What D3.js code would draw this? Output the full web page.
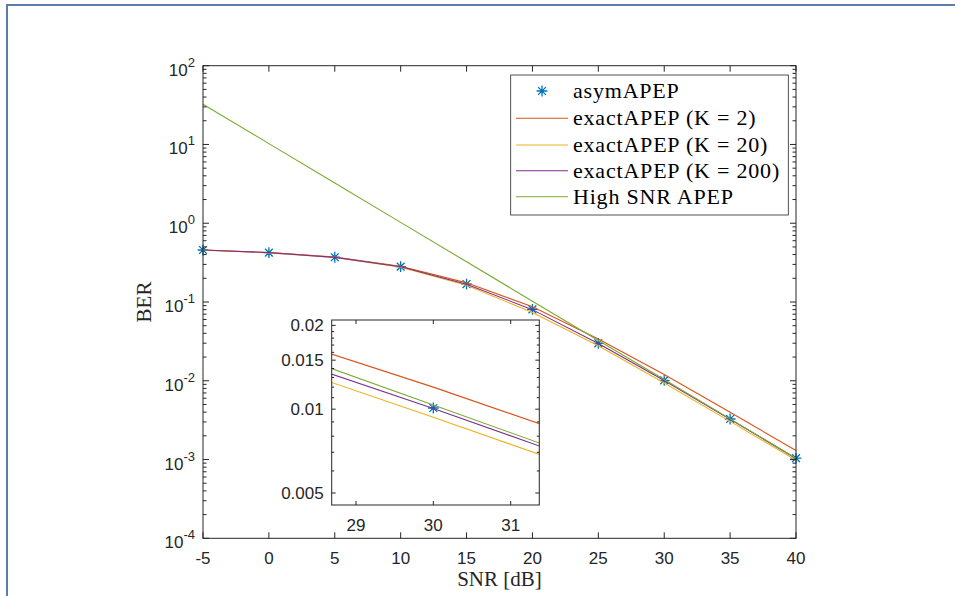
<!DOCTYPE html>
<html><head><meta charset="utf-8">
<script src="https://cdn.jsdelivr.net/npm/d3@7"></script>
<style>body{margin:0;background:#fff;}svg{display:block;}</style>
</head><body>
<svg id="chart" width="955" height="596"></svg>
<script>
// ---- data ----
const snr        = [-5, 0, 5, 10, 15, 20, 25, 30, 35, 40];
const asymAPEP   = [0.457, 0.423, 0.370, 0.281, 0.169, 0.0807, 0.0299, 0.0101, 0.00327, 0.00104];
const exactK2    = [0.458, 0.425, 0.373, 0.285, 0.175, 0.0871, 0.0340, 0.0120, 0.00398, 0.00130];
const exactK20   = [0.456, 0.421, 0.367, 0.277, 0.163, 0.0735, 0.0279, 0.00936, 0.00305, 0.00098];
const exactK200  = [0.457, 0.423, 0.369, 0.280, 0.168, 0.0800, 0.0298, 0.01005, 0.00325, 0.00103];
const highSNR    = [32.4, 10.25, 3.24, 1.025, 0.324, 0.1025, 0.0324, 0.01036, 0.00328, 0.00104];
const xTicks     = [-5, 0, 5, 10, 15, 20, 25, 30, 35, 40];
const yTickExps  = [2, 1, 0, -1, -2, -3, -4];
const insetXTicks = [29, 30, 31];
const insetYTicks = [0.005, 0.01, 0.015, 0.02];
const insetYLabels = ["0.005", "0.01", "0.015", "0.02"];
const legendLabels = ["asymAPEP", "exactAPEP (K = 2)", "exactAPEP (K = 20)", "exactAPEP (K = 200)", "High SNR APEP"];
const colors = ["#0072BD", "#D95319", "#EDB120", "#7E2F8E", "#77AC30"];

const svg = d3.select("#chart");
const axisColor = "#262626";
const sans = "'Liberation Sans', Arial, sans-serif";
const serif = "'Liberation Serif', 'Times New Roman', serif";

// outer frame
svg.append("rect").attr("x", 7).attr("y", 5).attr("width", 1000).attr("height", 700)
  .attr("fill", "none").attr("stroke", "#5a7dae").attr("stroke-width", 2);

// ---- main axes ----
const X0 = 203, X1 = 796, Y0 = 65.7, Y1 = 538.3;
const x = d3.scaleLinear().domain([-5, 40]).range([X0, X1]);
const y = d3.scaleLog().domain([1e-4, 1e2]).range([Y1, Y0]);

const series = [exactK2, exactK20, exactK200, highSNR];

function asterisk(g, cx, cy, r, color) {
  const d = `M${cx - r},${cy}L${cx + r},${cy}M${cx},${cy - r}L${cx},${cy + r}` +
    `M${cx - r * 0.72},${cy - r * 0.72}L${cx + r * 0.72},${cy + r * 0.72}` +
    `M${cx - r * 0.72},${cy + r * 0.72}L${cx + r * 0.72},${cy - r * 0.72}`;
  g.append("path").attr("d", d).attr("stroke", color).attr("stroke-width", 1.3).attr("fill", "none");
}

const main = svg.append("g");
main.append("clipPath").attr("id", "mainclip").append("rect")
  .attr("x", X0 - 6).attr("y", Y0).attr("width", X1 - X0 + 12).attr("height", Y1 - Y0);
const plotG = main.append("g").attr("clip-path", "url(#mainclip)");

// markers (asym)
snr.forEach((s, i) => asterisk(plotG, x(s), y(asymAPEP[i]), 5.4, colors[0]));
const line = d3.line().x((d, i) => x(snr[i])).y(d => y(d));
series.forEach((s, k) => {
  plotG.append("path").datum(s).attr("d", line).attr("fill", "none")
    .attr("stroke", colors[k + 1]).attr("stroke-width", 1.1);
});

// box
main.append("rect").attr("x", X0).attr("y", Y0).attr("width", X1 - X0).attr("height", Y1 - Y0)
  .attr("fill", "none").attr("stroke", axisColor).attr("stroke-width", 1);

// x ticks
xTicks.forEach(t => {
  const px = x(t);
  main.append("line").attr("x1", px).attr("x2", px).attr("y1", Y1).attr("y2", Y1 - 6).attr("stroke", axisColor);
  main.append("line").attr("x1", px).attr("x2", px).attr("y1", Y0).attr("y2", Y0 + 6).attr("stroke", axisColor);
  main.append("text").attr("x", px).attr("y", Y1 + 26).attr("text-anchor", "middle")
    .attr("font-family", sans).attr("font-size", 17).attr("fill", axisColor).text(t);
});
// y ticks (major + minor)
yTickExps.forEach(e => {
  const py = y(Math.pow(10, e));
  main.append("line").attr("x1", X0).attr("x2", X0 + 6).attr("y1", py).attr("y2", py).attr("stroke", axisColor);
  main.append("line").attr("x1", X1).attr("x2", X1 - 6).attr("y1", py).attr("y2", py).attr("stroke", axisColor);
  const tx = main.append("text").attr("x", X0 - 8).attr("y", py + 10).attr("text-anchor", "end")
    .attr("font-family", sans).attr("font-size", 17).attr("fill", axisColor);
  tx.append("tspan").text("10");
  tx.append("tspan").attr("dy", -9).attr("font-size", 13).text(String(e));
  if (e > -4) {
    for (let m = 2; m <= 9; m++) {
      const pm = y(m * Math.pow(10, e - 1));
      main.append("line").attr("x1", X0).attr("x2", X0 + 3.5).attr("y1", pm).attr("y2", pm).attr("stroke", axisColor);
      main.append("line").attr("x1", X1).attr("x2", X1 - 3.5).attr("y1", pm).attr("y2", pm).attr("stroke", axisColor);
    }
  }
});

// axis labels
main.append("text").attr("x", (X0 + X1) / 2).attr("y", 586).attr("text-anchor", "middle")
  .attr("font-family", serif).attr("font-size", 21).attr("fill", axisColor).text("SNR [dB]");
main.append("text").attr("transform", `translate(151,${(Y0 + Y1) / 2}) rotate(-90)`).attr("text-anchor", "middle")
  .attr("font-family", serif).attr("font-size", 21).attr("fill", axisColor).text("BER");

// ---- legend ----
const LX = 510.7, LY = 75, LW = 277.6, LH = 140;
const leg = svg.append("g");
leg.append("rect").attr("x", LX).attr("y", LY).attr("width", LW).attr("height", LH)
  .attr("fill", "#fff").attr("stroke", axisColor).attr("stroke-width", 0.8);
const rowY = [91, 118.3, 145, 170.7, 196.7];
legendLabels.forEach((lab, i) => {
  const ry = rowY[i];
  if (i === 0) asterisk(leg, 542, ry, 5.4, colors[0]);
  else leg.append("line").attr("x1", 516).attr("x2", 568).attr("y1", ry).attr("y2", ry)
    .attr("stroke", colors[i]).attr("stroke-width", 1.1);
  leg.append("text").attr("x", 573).attr("y", ry + 7).attr("font-family", serif).attr("font-size", 22)
    .attr("letter-spacing", 0.8).attr("fill", "#000").text(lab);
});

// ---- inset ----
const IX0 = 331.7, IX1 = 539.3, IY0 = 320, IY1 = 505;
const ix = d3.scaleLinear().domain([28.686, 31.37]).range([IX0, IX1]);
const iy = d3.scaleLog().domain([0.004527, 0.02091]).range([IY1, IY0]);
const ins = svg.append("g");
ins.append("rect").attr("x", IX0).attr("y", IY0).attr("width", IX1 - IX0).attr("height", IY1 - IY0).attr("fill", "#fff");
ins.append("clipPath").attr("id", "insclip").append("rect")
  .attr("x", IX0).attr("y", IY0).attr("width", IX1 - IX0).attr("height", IY1 - IY0);
const insG = ins.append("g").attr("clip-path", "url(#insclip)");
snr.forEach((s, i) => asterisk(insG, ix(s), iy(asymAPEP[i]), 5.4, colors[0]));
const iline = d3.line().x((d, i) => ix(snr[i])).y(d => iy(d));
series.forEach((s, k) => {
  insG.append("path").datum(s).attr("d", iline).attr("fill", "none")
    .attr("stroke", colors[k + 1]).attr("stroke-width", 1.1);
});
ins.append("rect").attr("x", IX0).attr("y", IY0).attr("width", IX1 - IX0).attr("height", IY1 - IY0)
  .attr("fill", "none").attr("stroke", axisColor).attr("stroke-width", 1);
insetXTicks.forEach(t => {
  const px = ix(t);
  ins.append("line").attr("x1", px).attr("x2", px).attr("y1", IY1).attr("y2", IY1 - 4).attr("stroke", axisColor);
  ins.append("line").attr("x1", px).attr("x2", px).attr("y1", IY0).attr("y2", IY0 + 4).attr("stroke", axisColor);
  ins.append("text").attr("x", px).attr("y", IY1 + 26).attr("text-anchor", "middle")
    .attr("font-family", sans).attr("font-size", 17).attr("fill", axisColor).text(t);
});
insetYTicks.forEach((t, i) => {
  const py = iy(t);
  ins.append("line").attr("x1", IX0).attr("x2", IX0 + 4).attr("y1", py).attr("y2", py).attr("stroke", axisColor);
  ins.append("line").attr("x1", IX1).attr("x2", IX1 - 4).attr("y1", py).attr("y2", py).attr("stroke", axisColor);
  ins.append("text").attr("x", IX0 - 8).attr("y", py + 6).attr("text-anchor", "end")
    .attr("font-family", sans).attr("font-size", 17).attr("fill", axisColor).text(insetYLabels[i]);
});
for (let v = 0.006; v < 0.0201; v += 0.001) {
  const vv = Math.round(v * 1000) / 1000;
  if (insetYTicks.some(t => Math.abs(t - vv) < 1e-9)) continue;
  const py = iy(vv);
  ins.append("line").attr("x1", IX0).attr("x2", IX0 + 2.5).attr("y1", py).attr("y2", py).attr("stroke", axisColor);
  ins.append("line").attr("x1", IX1).attr("x2", IX1 - 2.5).attr("y1", py).attr("y2", py).attr("stroke", axisColor);
}
</script>
</body></html>
